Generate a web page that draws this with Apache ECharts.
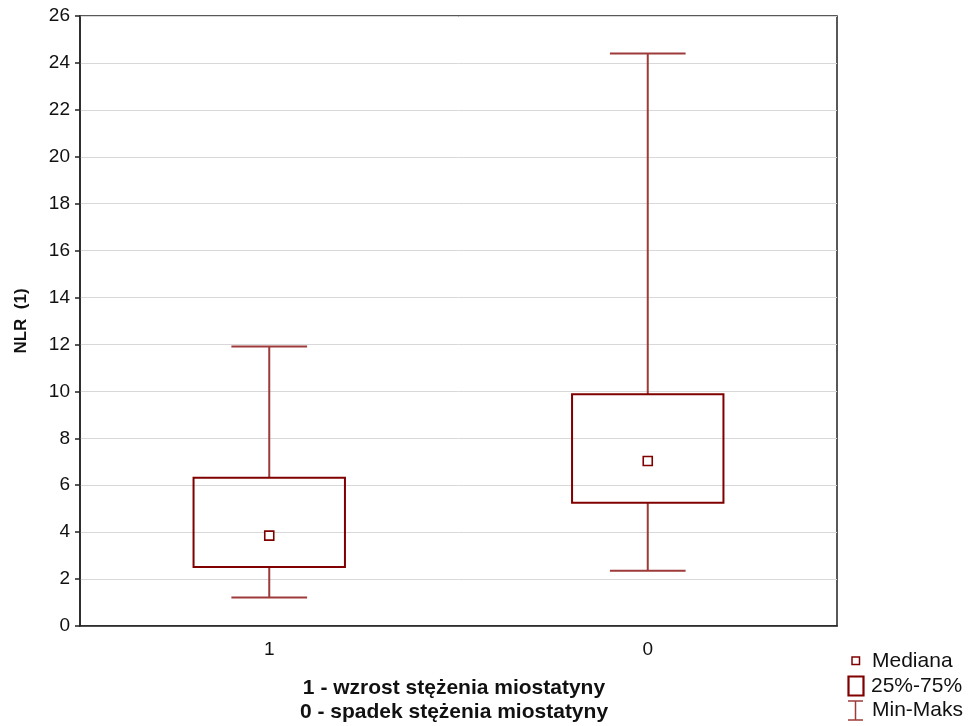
<!DOCTYPE html>
<html>
<head>
<meta charset="utf-8">
<script src="https://cdn.jsdelivr.net/npm/echarts@6/dist/echarts.min.js"></script>
<style>
  html, body { margin: 0; padding: 0; background: #fff; }
  #chart { width: 968px; height: 726px; }
</style>
</head>
<body>
<div id="chart"></div>
<script>
// NLR (1) by change in myostatin concentration
const categories = ['1', '0'];
const minVals    = [1.21, 2.36];
const q1Vals     = [2.51, 5.25];
const medianVals = [3.85, 7.03];
const q3Vals     = [6.32, 9.88];
const maxVals    = [11.91, 24.40];
const yTicks = { min: 0, max: 26, step: 2 };

const boxColor = '#800000';
const whiskerColor = '#9e3a3a';
const FONT = 'Liberation Sans, Arial, sans-serif';

const seriesData = categories.map((c, i) => [i, minVals[i], q1Vals[i], medianVals[i], q3Vals[i], maxVals[i]]);

function renderBox(params, api) {
  const idx = api.value(0);
  const pMin = api.coord([idx, api.value(1)]);
  const pQ1 = api.coord([idx, api.value(2)]);
  const pMed = api.coord([idx, api.value(3)]);
  const pQ3 = api.coord([idx, api.value(4)]);
  const pMax = api.coord([idx, api.value(5)]);
  const band = api.size([1, 0])[0];
  const boxW = band * 0.4;
  const capW = boxW * 0.5;
  const x = pQ1[0];
  const whiskerStyle = { stroke: whiskerColor, lineWidth: 2 };
  const sq = 9;
  return {
    type: 'group',
    children: [
      { type: 'line', shape: { x1: x, y1: pMax[1], x2: x, y2: pQ3[1] }, style: whiskerStyle },
      { type: 'line', shape: { x1: x, y1: pQ1[1], x2: x, y2: pMin[1] }, style: whiskerStyle },
      { type: 'line', shape: { x1: x - capW / 2, y1: pMax[1], x2: x + capW / 2, y2: pMax[1] }, style: whiskerStyle },
      { type: 'line', shape: { x1: x - capW / 2, y1: pMin[1], x2: x + capW / 2, y2: pMin[1] }, style: whiskerStyle },
      { type: 'rect', shape: { x: x - boxW / 2, y: pQ3[1], width: boxW, height: pQ1[1] - pQ3[1] },
        style: { fill: 'none', stroke: boxColor, lineWidth: 2 } },
      { type: 'rect', shape: { x: x - sq / 2, y: pMed[1] - sq / 2, width: sq, height: sq },
        style: { fill: '#fff', stroke: boxColor, lineWidth: 1.6 } }
    ]
  };
}

const chart = echarts.init(document.getElementById('chart'), null, { renderer: 'canvas' });

chart.setOption({
  animation: false,
  backgroundColor: '#fff',
  grid: {
    left: 80, right: 131, top: 16, bottom: 100,
    show: true, borderColor: '#222', borderWidth: 1.5, backgroundColor: 'transparent'
  },
  xAxis: {
    type: 'category',
    data: categories,
    boundaryGap: true,
    axisLine: { lineStyle: { color: '#222', width: 1.5 } },
    axisTick: { alignWithLabel: true, length: 5, lineStyle: { color: '#222', width: 1.5 } },
    axisLabel: { color: '#111', fontSize: 19, fontFamily: FONT, margin: 14 },
    splitLine: { show: false }
  },
  yAxis: {
    type: 'value',
    min: yTicks.min, max: yTicks.max, interval: yTicks.step,
    name: 'NLR  (1)',
    nameLocation: 'middle',
    nameGap: 50,
    nameTextStyle: { color: '#111', fontSize: 17, fontWeight: 'bold', fontFamily: FONT },
    axisLine: { show: true, lineStyle: { color: '#222', width: 1.5 } },
    axisTick: { show: true, length: 5, lineStyle: { color: '#222', width: 1.5 } },
    axisLabel: { color: '#111', fontSize: 19, fontFamily: FONT, margin: 10 },
    splitLine: { show: true, lineStyle: { color: '#d8d8d8', width: 1 } }
  },
  series: [{
    type: 'custom',
    renderItem: renderBox,
    encode: { x: 0, y: [1, 2, 3, 4, 5] },
    data: seriesData,
    z: 5
  }],
  graphic: [
    { type: 'text',
      style: { x: 454, y: 688, text: '1 - wzrost stężenia miostatyny', fill: '#111', font: 'bold 21px ' + FONT,
               textAlign: 'center', textVerticalAlign: 'middle' } },
    { type: 'text',
      style: { x: 454, y: 712, text: '0 - spadek stężenia miostatyny', fill: '#111', font: 'bold 21px ' + FONT,
               textAlign: 'center', textVerticalAlign: 'middle' } },
    // legend
    { type: 'rect', shape: { x: 852, y: 657, width: 7.5, height: 7.5 }, style: { fill: '#fff', stroke: boxColor, lineWidth: 1.5 } },
    { type: 'text', style: { x: 872, y: 661, text: 'Mediana', fill: '#111', font: '21px ' + FONT, textVerticalAlign: 'middle' } },
    { type: 'rect', shape: { x: 848.5, y: 676.5, width: 15, height: 19 }, style: { fill: '#fff', stroke: boxColor, lineWidth: 2.2 } },
    { type: 'text', style: { x: 871, y: 686, text: '25%-75%', fill: '#111', font: '21px ' + FONT, textVerticalAlign: 'middle' } },
    { type: 'line', shape: { x1: 848, y1: 701, x2: 863, y2: 701 }, style: { stroke: whiskerColor, lineWidth: 1.5 } },
    { type: 'line', shape: { x1: 855.5, y1: 701, x2: 855.5, y2: 720 }, style: { stroke: whiskerColor, lineWidth: 1.5 } },
    { type: 'line', shape: { x1: 848, y1: 720, x2: 863, y2: 720 }, style: { stroke: whiskerColor, lineWidth: 1.5 } },
    { type: 'text', style: { x: 872, y: 710, text: 'Min-Maks', fill: '#111', font: '21px ' + FONT, textVerticalAlign: 'middle' } }
  ]
});
</script>
</body>
</html>
